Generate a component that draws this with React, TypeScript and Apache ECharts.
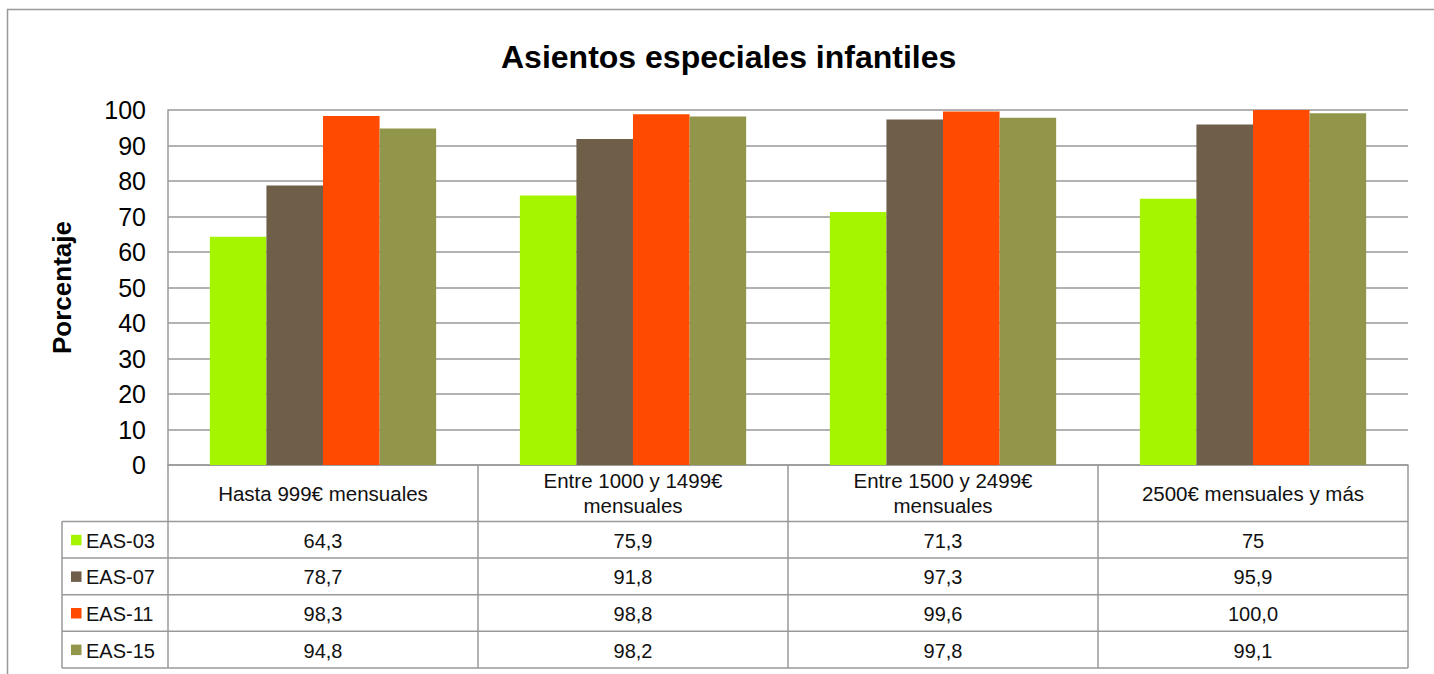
import React, { useEffect, useRef } from "react";
import * as echarts from "echarts";

const titleText = "Asientos especiales infantiles";
const yAxisName = "Porcentaje";
const categories = [
  "Hasta 999€ mensuales",
  "Entre 1000 y 1499€\nmensuales",
  "Entre 1500 y 2499€\nmensuales",
  "2500€ mensuales y más",
];
const seriesNames = ["EAS-03", "EAS-07", "EAS-11", "EAS-15"];
const eas03 = ["64,3", "75,9", "71,3", "75"];
const eas07 = ["78,7", "91,8", "97,3", "95,9"];
const eas11 = ["98,3", "98,8", "99,6", "100,0"];
const eas15 = ["94,8", "98,2", "97,8", "99,1"];
const seriesColors = ["#A6F500", "#6F5F48", "#FF4A00", "#92964A"];
const yTicks = { min: 0, max: 100, interval: 10 };

const FONT = "'Liberation Sans', Arial, sans-serif";

export default function App() {
  const ref = useRef<HTMLDivElement>(null);
  useEffect(() => {
    if (!ref.current) return;
    const chart = echarts.init(ref.current, undefined, { renderer: "svg" });
    const seriesLabels = [eas03, eas07, eas11, eas15];
    const toNum = (s: string) => parseFloat(s.replace(",", "."));

    const W = 1434;
    const gridLeft = 168;
    const gridRight = 1408;
    const gridTop = 110;
    const axisY = 465;
    const headerBottom = 521.5;
    const rowH = 36.6;
    const legendLeft = 62;
    const tableBottom = headerBottom + rowH * seriesNames.length;
    const colW = (gridRight - gridLeft) / categories.length;
    const lineStyle = { stroke: "#999", lineWidth: 1.5 };
    const tableFont = 20;

    const graphics: any[] = [];
    graphics.push({
      type: "rect",
      shape: { x: 7.5, y: 9.5, width: 1460, height: 700 },
      style: { fill: "none", stroke: "#999", lineWidth: 1.5 },
      silent: true,
    });
    for (let r = 0; r <= seriesNames.length; r++) {
      const y = headerBottom + r * rowH;
      graphics.push({
        type: "line",
        shape: { x1: legendLeft, y1: y, x2: gridRight, y2: y },
        style: lineStyle,
      });
    }
    for (let c = 0; c <= categories.length; c++) {
      const x = gridLeft + c * colW;
      graphics.push({
        type: "line",
        shape: { x1: x, y1: axisY, x2: x, y2: tableBottom },
        style: lineStyle,
      });
    }
    graphics.push({
      type: "line",
      shape: { x1: legendLeft, y1: headerBottom, x2: legendLeft, y2: tableBottom },
      style: lineStyle,
    });
    seriesNames.forEach((name, r) => {
      const cy = headerBottom + r * rowH + rowH / 2;
      graphics.push({
        type: "rect",
        shape: { x: 71, y: cy - 5, width: 10.5, height: 10.5 },
        style: { fill: seriesColors[r] },
      });
      graphics.push({
        type: "text",
        x: 86,
        y: cy + 1,
        style: {
          text: name,
          fontSize: tableFont,
          fontFamily: FONT,
          fill: "#111",
          align: "left",
          verticalAlign: "middle",
        },
      });
      seriesLabels[r].forEach((v, c) => {
        graphics.push({
          type: "text",
          x: gridLeft + c * colW + colW / 2,
          y: cy + 1,
          style: {
            text: v,
            fontSize: tableFont,
            fontFamily: FONT,
            fill: "#111",
            align: "center",
            verticalAlign: "middle",
          },
        });
      });
    });

    chart.setOption({
      animation: false,
      backgroundColor: "#fff",
      title: {
        text: titleText,
        left: 496,
        top: 36,
        textStyle: { fontSize: 32, fontWeight: "bold", fontFamily: FONT, color: "#000" },
      },
      grid: {
        left: gridLeft,
        right: W - gridRight,
        top: gridTop,
        bottom: 674 - axisY,
        containLabel: false,
      },
      xAxis: {
        type: "category",
        data: categories,
        axisLine: { show: true, lineStyle: { color: "#999", width: 1.5 } },
        axisTick: { show: false },
        axisLabel: {
          interval: 0,
          margin: 28,
          verticalAlign: "middle",
          fontSize: 20.5,
          lineHeight: 25,
          fontFamily: FONT,
          color: "#111",
        },
      },
      yAxis: {
        type: "value",
        min: yTicks.min,
        max: yTicks.max,
        interval: yTicks.interval,
        name: yAxisName,
        nameLocation: "middle",
        nameGap: 93,
        nameTextStyle: { fontSize: 26, fontWeight: "bold", fontFamily: FONT, color: "#000" },
        axisLine: { show: true, lineStyle: { color: "#999", width: 1.5 } },
        axisTick: { show: false },
        axisLabel: { fontSize: 25, margin: 22, fontFamily: FONT, color: "#000" },
        splitLine: { show: true, lineStyle: { color: "#999", width: 1.5 } },
      },
      series: seriesNames.map((name, i) => ({
        name,
        type: "bar",
        data: seriesLabels[i].map(toNum),
        barGap: "0%",
        barCategoryGap: "27%",
        itemStyle: { color: seriesColors[i] },
      })),
      graphic: graphics,
    });
    return () => chart.dispose();
  }, []);
  return (
    <div
      ref={ref}
      style={{ position: "fixed", left: 0, top: 0, width: 1434, height: 674 }}
    />
  );
}
